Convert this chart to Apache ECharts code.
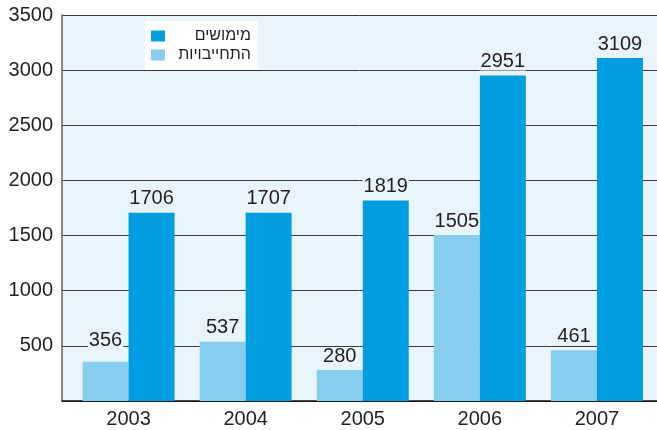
<!DOCTYPE html>
<html>
<head>
<meta charset="utf-8">
<script src="https://cdn.jsdelivr.net/npm/echarts@6/dist/echarts.min.js"></script>
<style>
html,body{margin:0;padding:0;background:#fff;}
#c{width:657px;height:430px;}
</style>
</head>
<body>
<div id="c"></div>
<script>
const years = ['2003', '2004', '2005', '2006', '2007'];
const commitments = [356, 537, 280, 1505, 461];   // התחייבויות
const realizations = [1706, 1707, 1819, 2951, 3109]; // מימושים
const seriesNames = ['התחייבויות', 'מימושים'];
const yTicks = { min: 0, max: 3500, interval: 500 };

const FONT = '"Liberation Sans", Arial, "DejaVu Sans", sans-serif';
const TXT = '#231f20';
const PLOT_BG = '#eaf4fb';

const chart = echarts.init(document.getElementById('c'), null, { renderer: 'canvas' });

const labelCfg = {
  show: true,
  position: 'top',
  distance: 5,
  fontFamily: FONT,
  fontSize: 20,
  color: TXT,
  backgroundColor: PLOT_BG,
  padding: [0, 1],
  lineHeight: 18
};

// the first commitments label sits above the 500 gridline in the original
const commitmentsData = commitments.map(function (v, i) {
  return i === 0 ? { value: v, label: { offset: [0, -7] } } : v;
});

chart.setOption({
  animation: false,
  backgroundColor: '#ffffff',
  textStyle: { fontFamily: FONT },
  grid: [
    { left: 70, right: 1.5, top: 15, bottom: 29, containLabel: false },
    { left: 62, right: 0, top: 15, bottom: 29, show: true, backgroundColor: PLOT_BG, borderWidth: 0, z: -1 }
  ],
  legend: {
    data: [seriesNames[1], seriesNames[0]],
    orient: 'vertical',
    left: 145,
    top: 21,
    padding: [7, 7, 7, 6],
    backgroundColor: '#ffffff',
    itemWidth: 14,
    itemHeight: 11,
    itemGap: 3,
    icon: 'rect',
    formatter: function (n) { return '{a|' + n + '}'; },
    textStyle: {
      fontFamily: FONT,
      fontSize: 16,
      color: TXT,
      rich: { a: { width: 81, align: 'right', fontSize: 16, fontFamily: FONT, color: TXT } }
    }
  },
  xAxis: [
    {
      type: 'category', gridIndex: 0, data: years,
      axisLine: { show: false }, axisTick: { show: false },
      axisLabel: { fontFamily: FONT, fontSize: 20, color: TXT, margin: 8 }
    },
    {
      type: 'value', gridIndex: 1, min: 0, max: 1,
      axisLine: { show: true, lineStyle: { color: '#111', width: 1.5 } },
      axisTick: { show: false }, axisLabel: { show: false }, splitLine: { show: false }
    }
  ],
  yAxis: [
    { type: 'value', gridIndex: 0, min: yTicks.min, max: yTicks.max, interval: yTicks.interval, show: false },
    {
      type: 'value', gridIndex: 1, min: yTicks.min, max: yTicks.max, interval: yTicks.interval,
      axisLine: { show: true, lineStyle: { color: '#666', width: 1.5 } },
      axisTick: { show: false },
      splitLine: { show: true, lineStyle: { color: '#3a3a3a', width: 1 } },
      axisLabel: {
        fontFamily: FONT, fontSize: 20, color: TXT, margin: 9,
        formatter: function (v) { return v === 0 ? '' : String(v); }
      }
    }
  ],
  series: [
    {
      name: seriesNames[0], type: 'bar', xAxisIndex: 0, yAxisIndex: 0,
      data: commitmentsData, barWidth: 46, barGap: '0%',
      itemStyle: { color: '#86cdee' },
      label: labelCfg, z: 3
    },
    {
      name: seriesNames[1], type: 'bar', xAxisIndex: 0, yAxisIndex: 0,
      data: realizations, barWidth: 46, barGap: '0%',
      itemStyle: { color: '#009ee0' },
      label: labelCfg, z: 3
    }
  ]
});
</script>
</body>
</html>
